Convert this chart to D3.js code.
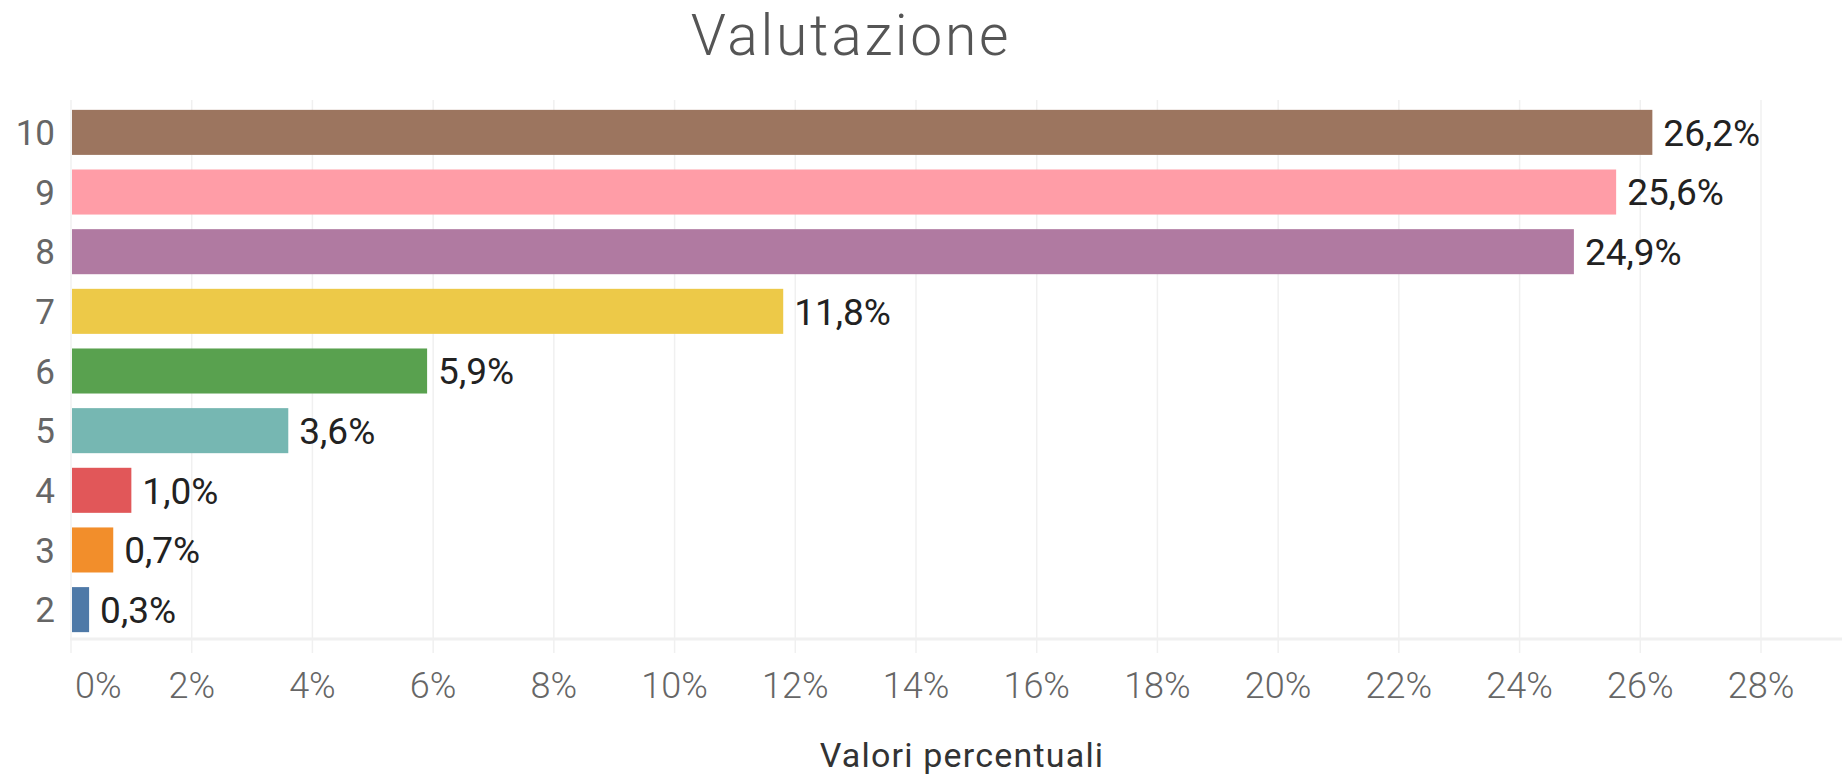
<!DOCTYPE html>
<html>
<head>
<meta charset="utf-8">
<script src="https://cdn.jsdelivr.net/npm/d3@7"></script>
<style>
  body { margin: 0; background: #fff; }
  svg text { font-family: Roboto, "Open Sans", sans-serif; }
</style>
</head>
<body>
<div id="chart"></div>
<script>
// valutazione bar chart
const ratings = ["10", "9", "8", "7", "6", "5", "4", "3", "2"];
const shares = [26.2, 25.6, 24.9, 11.8, 5.9, 3.6, 1.0, 0.7, 0.3];
const barColors = ["#9c755f", "#ff9da7", "#b07aa1", "#edc948", "#59a14f", "#76b7b2", "#e15759", "#f28e2b", "#4e79a7"];
const tickValues = d3.range(0, 29, 2);

const width = 1842;
const height = 774;

const svg = d3.select("#chart").append("svg")
    .attr("width", width)
    .attr("height", height);

const x = d3.scaleLinear().domain([0, 28]).range([71, 1761]);
const y = d3.scaleBand().domain(ratings).range([101.5, 640.5])
    .paddingInner(0.245)
    .paddingOuter(0.14);

const gridColor = "#f0f0f0";

// vertical gridlines
svg.append("g").selectAll("line")
    .data(tickValues)
    .join("line")
    .attr("x1", d => x(d))
    .attr("x2", d => x(d))
    .attr("y1", 100)
    .attr("y2", 653)
    .attr("stroke", gridColor)
    .attr("stroke-width", 1.5);

// bottom axis line
svg.append("line")
    .attr("x1", 70).attr("x2", 1842)
    .attr("y1", 639).attr("y2", 639)
    .attr("stroke", gridColor)
    .attr("stroke-width", 3);

// bars
svg.append("g").selectAll("rect")
    .data(ratings)
    .join("rect")
    .attr("x", x(0) + 1)
    .attr("y", d => y(d))
    .attr("width", (d, i) => x(shares[i]) - x(0) - 1)
    .attr("height", y.bandwidth())
    .attr("fill", (d, i) => barColors[i]);

// value labels
const fmt = v => v.toFixed(1).replace(".", ",") + "%";
svg.append("g").selectAll("text")
    .data(ratings)
    .join("text")
    .attr("x", (d, i) => x(shares[i]) + 11)
    .attr("y", d => y(d) + y.bandwidth() / 2)
    .attr("dy", "0.36em")
    .attr("font-size", "37px")
    .attr("fill", "#222")
    .text((d, i) => fmt(shares[i]));

// row labels
svg.append("g").selectAll("text")
    .data(ratings)
    .join("text")
    .attr("x", 55)
    .attr("y", d => y(d) + y.bandwidth() / 2)
    .attr("dy", "0.36em")
    .attr("text-anchor", "end")
    .attr("font-size", "35px")
    .attr("fill", "#666")
    .text(d => d);

// x tick labels
svg.append("g").selectAll("text")
    .data(tickValues)
    .join("text")
    .attr("x", d => d === 0 ? x(d) + 4 : x(d))
    .attr("y", 698)
    .attr("text-anchor", d => d === 0 ? "start" : "middle")
    .attr("font-size", "36px")
    .attr("font-weight", 300)
    .attr("fill", "#666")
    .text(d => d + "%");

// axis title
svg.append("text")
    .attr("x", 962)
    .attr("y", 767)
    .attr("text-anchor", "middle")
    .attr("font-size", "34px")
    .attr("letter-spacing", "1.2px")
    .attr("fill", "#333")
    .text("Valori percentuali");

// chart title
svg.append("text")
    .attr("x", 851)
    .attr("y", 55)
    .attr("text-anchor", "middle")
    .attr("font-size", "57px")
    .attr("font-weight", 300)
    .attr("letter-spacing", "2.7px")
    .attr("fill", "#555")
    .text("Valutazione");
</script>
</body>
</html>
